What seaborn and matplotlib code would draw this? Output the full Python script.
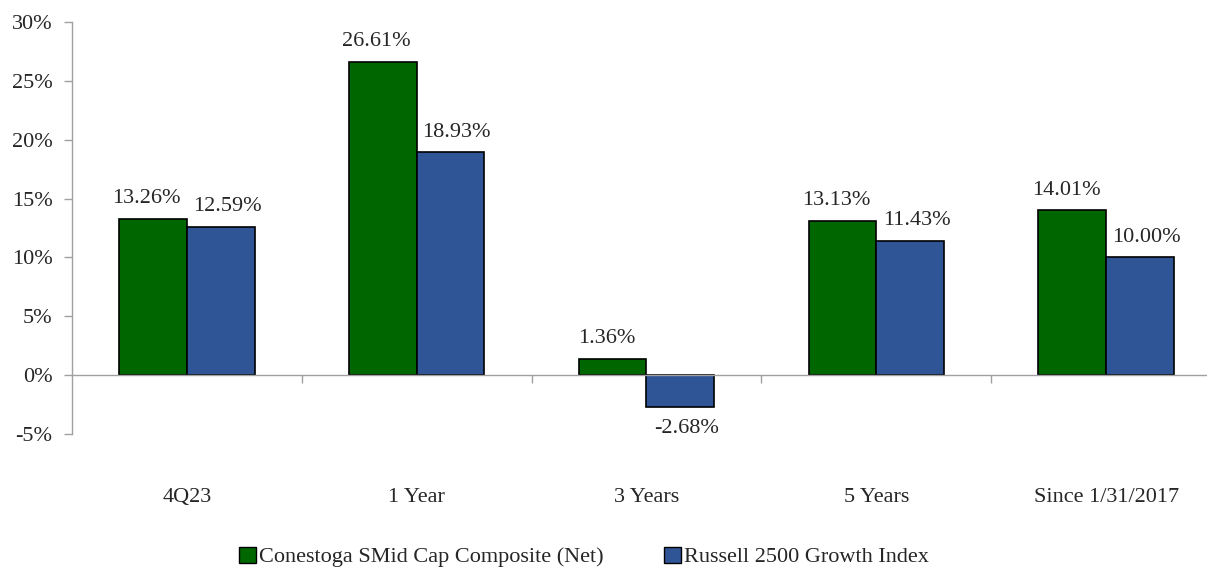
import matplotlib
matplotlib.use("Agg")
import matplotlib.pyplot as plt
import matplotlib.transforms as mtransforms
from matplotlib.patches import Patch
import pandas as pd
import seaborn as sns

periods = ["4Q23", "1 Year", "3 Years", "5 Years", "Since 1/31/2017"]
composite = [13.26, 26.61, 1.36, 13.13, 14.01]
russell = [12.59, 18.93, -2.68, 11.43, 10.00]
series_names = ["Conestoga SMid Cap Composite (Net)", "Russell 2500 Growth Index"]
colors = ["#006600", "#2F5597"]
y_ticks = [-5, 0, 5, 10, 15, 20, 25, 30]

df = pd.DataFrame({
    "Period": periods * 2,
    "Return": composite + russell,
    "Series": [series_names[0]] * len(periods) + [series_names[1]] * len(periods),
})

sns.set_style("white")
plt.rcParams["font.family"] = ["Liberation Serif", "DejaVu Serif"]
FS = 16

fig = plt.figure(figsize=(12.07, 5.69), dpi=100)
ax = fig.add_axes([72 / 1207, 1 - 434 / 569, (1221 - 72) / 1207, 412 / 569])

sns.barplot(data=df, x="Period", y="Return", hue="Series", order=periods,
            hue_order=series_names, palette=colors, width=0.59,
            edgecolor="black", linewidth=1.2, saturation=1, ax=ax, legend=False)

# value labels, nudged outward a little like the original
for k, container in enumerate(ax.containers):
    dx = -4.5 if k == 0 else 4.5
    for bar in container:
        h = bar.get_height()
        x = bar.get_x() + bar.get_width() / 2
        off = 14.5 if h >= 0 else -16
        ax.annotate(f"{h:.2f}%", (x, h), xytext=(dx, off), textcoords="offset points",
                    ha="center", va="center", fontsize=FS)

ax.set_ylim(-5, 30)
ax.set_xlim(-0.5, len(periods) - 0.5)
ax.set_yticks(y_ticks)
ax.set_yticklabels([f"{t}%" for t in y_ticks], fontsize=FS)
ax.set_xlabel("")
ax.set_ylabel("")

# x axis line at zero with ticks between categories
ax.spines["bottom"].set_position(("data", 0))
ax.set_xticks([i + 0.5 for i in range(len(periods) - 1)])
ax.set_xticklabels([])
ax.tick_params(axis="x", bottom=True, direction="out", length=6, color="#A0A0A0", width=1)
ax.tick_params(axis="y", left=True, direction="out", length=6, color="#A0A0A0", width=1, pad=8)
for side in ["top", "right"]:
    ax.spines[side].set_visible(False)
for side in ["left", "bottom"]:
    ax.spines[side].set_color("#A0A0A0")
    ax.spines[side].set_linewidth(1)

# category labels below the plot area
trans = mtransforms.blended_transform_factory(ax.transData, ax.transAxes)
for i, p in enumerate(periods):
    ax.text(i, -0.153, p, transform=trans, ha="center", va="center", fontsize=FS)

handles = [Patch(facecolor=c, edgecolor="black", linewidth=1) for c in colors]
fig.legend(handles, series_names, loc="center", bbox_to_anchor=(584 / 1207, 1 - 557 / 569),
           ncol=2, frameon=False, fontsize=FS, handlelength=0.75, handleheight=0.75,
           handletextpad=0.15, columnspacing=2.7, borderpad=0)

fig.savefig("out.png", dpi=100)
